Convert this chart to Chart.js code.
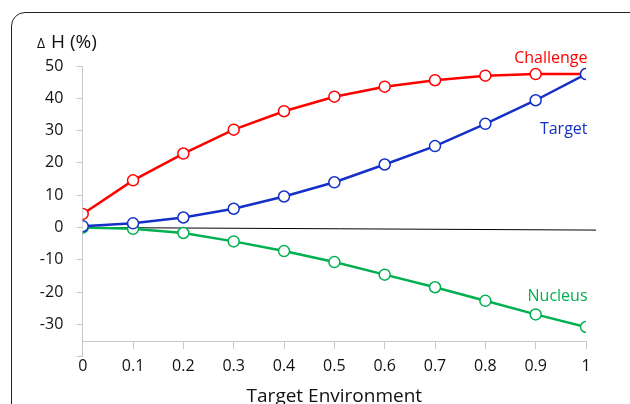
<!DOCTYPE html>
<html>
<head>
<meta charset="utf-8">
<script src="https://cdn.jsdelivr.net/npm/chart.js@4"></script>
<style>
  html, body { margin: 0; padding: 0; background: #fff; overflow: hidden; }
  #wrap { position: relative; width: 630px; height: 404px; overflow: hidden; }
  #frame {
    position: absolute; left: 11px; top: 12px; width: 640px; height: 440px;
    border: 1.5px solid #222; border-radius: 14px; box-sizing: border-box;
  }
  canvas { position: absolute; left: 0; top: 0; }
</style>
</head>
<body>
<div id="wrap">
  <div id="frame"></div>
  <canvas id="chart" width="630" height="404"></canvas>
</div>
<script>
const xValues   = [0, 0.1, 0.2, 0.3, 0.4, 0.5, 0.6, 0.7, 0.8, 0.9, 1];
const challenge = [4.2, 14.6, 22.9, 30.3, 36.0, 40.5, 43.6, 45.6, 47.0, 47.5, 47.5];
const target    = [0.4, 1.3, 3.1, 5.8, 9.6, 14.0, 19.5, 25.2, 32.1, 39.4, 47.5];
const nucleus   = [0, -0.4, -1.7, -4.3, -7.3, -10.7, -14.6, -18.5, -22.7, -26.9, -30.8];
const zeroLineX = [0, 1.02];
const zeroLineY = [0, -0.8];
const yTicks    = [-40, -30, -20, -10, 0, 10, 20, 30, 40, 50];

const FONT = "'Open Sans', 'Noto Sans', sans-serif";
const RED = '#ff0000', BLUE = '#1530c8', GREEN = '#00b050';

const pts = ys => xValues.map((x, i) => ({ x, y: ys[i] }));

function series(label, ys, color) {
  return {
    label,
    data: pts(ys),
    borderColor: color,
    borderWidth: 2.5,
    backgroundColor: '#fff',
    pointBackgroundColor: '#fff',
    pointBorderColor: color,
    pointBorderWidth: 1.5,
    pointRadius: 5.5,
    pointStyle: 'circle',
    tension: 0,
  };
}

// series names drawn next to the lines
const seriesLabels = [
  { text: 'Challenge', x: 1.003, y: 52.4, color: RED },
  { text: 'Target',    x: 1.003, y: 30.5, color: BLUE },
  { text: 'Nucleus',   x: 1.003, y: -21.4, color: GREEN },
];

const labelPlugin = {
  id: 'labels',
  afterDatasetsDraw(chart) {
    const { ctx, scales: { x, y } } = chart;
    ctx.save();
    ctx.font = `16px ${FONT}`;
    ctx.textAlign = 'right';
    ctx.textBaseline = 'middle';
    seriesLabels.forEach(l => {
      ctx.fillStyle = l.color;
      ctx.fillText(l.text, x.getPixelForValue(l.x), y.getPixelForValue(l.y));
    });
    // axis title "Δ H (%)"
    ctx.fillStyle = '#111';
    ctx.textAlign = 'left';
    ctx.textBaseline = 'alphabetic';
    ctx.font = `14px ${FONT}`;
    ctx.fillText('\u0394', 37, 48);
    ctx.font = `19px ${FONT}`;
    ctx.fillText('H (%)', 51, 48);
    ctx.restore();
  }
};

new Chart(document.getElementById('chart'), {
  type: 'line',
  data: {
    datasets: [
      series('Target', target, BLUE),
      series('Challenge', challenge, RED),
      series('Nucleus', nucleus, GREEN),
      {
        label: 'zero',
        data: zeroLineX.map((x, i) => ({ x, y: zeroLineY[i] })),
        borderColor: '#000',
        borderWidth: 1,
        pointRadius: 0,
        clip: false,
      },
    ],
  },
  options: {
    responsive: false,
    animation: false,
    events: [],
    layout: { padding: { top: 66, right: 44, left: 0, bottom: 47.3 } },
    plugins: { legend: { display: false }, tooltip: { enabled: false } },
    scales: {
      x: {
        type: 'linear',
        position: { y: -35.3 },
        min: 0,
        max: 1,
        afterFit: s => { s.height = 47.3; },
        grid: { drawOnChartArea: false, drawTicks: true, tickLength: 7, color: '#c8c8c8' },
        border: { color: '#c8c8c8', width: 1 },
        ticks: {
          stepSize: 0.1,
          padding: 8.4,
          color: '#111',
          font: { family: FONT, size: 16 },
          callback: v => String(+v.toFixed(1)),
        },
        title: {
          display: true,
          text: 'Target Environment',
          color: '#111',
          font: { family: FONT, size: 19 },
          padding: { top: 0, bottom: -19.5 },
        },
      },
      y: {
        min: yTicks[0],
        max: yTicks[yTicks.length - 1],
        afterFit: s => { s.width = 82.7; },
        afterBuildTicks: s => { s.ticks = yTicks.map(v => ({ value: v })); },
        grid: { drawOnChartArea: false, drawTicks: true, tickLength: 6, color: '#c8c8c8' },
        border: { color: '#c8c8c8', width: 1 },
        ticks: {
          padding: 13.4,
          color: '#111',
          font: { family: FONT, size: 16 },
          callback: v => (v === -40 ? '' : String(v)),
        },
      },
    },
  },
  plugins: [labelPlugin],
});
</script>
</body>
</html>
